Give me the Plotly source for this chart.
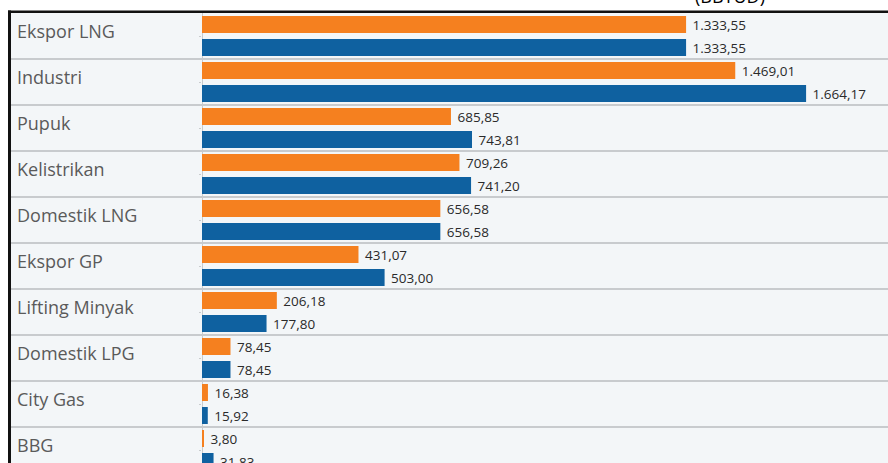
import plotly.graph_objects as go

categories = ["Ekspor LNG", "Industri", "Pupuk", "Kelistrikan", "Domestik LNG",
              "Ekspor GP", "Lifting Minyak", "Domestik LPG", "City Gas", "BBG"]
series_orange = [1333.55, 1469.01, 685.85, 709.26, 656.58, 431.07, 206.18, 78.45, 16.38, 3.80]
series_blue = [1333.55, 1664.17, 743.81, 741.20, 656.58, 503.00, 177.80, 78.45, 15.92, 31.83]
title_text = "(BBTUD)"


def fmt(v):
    s = f"{v:,.2f}"
    return " " + s.replace(",", "X").replace(".", ",").replace("X", ".")


W, H = 888, 463
TOP = 13
ROW = 46.0
PLOT_H = H - TOP
X_LEFT = 202
PX_PER_UNIT = 0.363
x_max = (W - X_LEFT) / PX_PER_UNIT

BG = "#f3f6f8"
ORANGE = "#f5801f"
BLUE = "#0f61a0"
VAL_FONT = dict(family="Open Sans", size=13.5, color="#2a2a2a")

fig = go.Figure()
fig.add_trace(go.Bar(
    y=categories, x=series_orange, orientation="h",
    marker=dict(color=ORANGE, line=dict(width=0)),
    text=[fmt(v) for v in series_orange], textposition="outside",
    textfont=VAL_FONT,
    constraintext="none", cliponaxis=False, hoverinfo="skip",
))
fig.add_trace(go.Bar(
    y=categories, x=series_blue, orientation="h",
    marker=dict(color=BLUE, line=dict(width=0)),
    text=[fmt(v) for v in series_blue], textposition="outside",
    textfont=VAL_FONT,
    constraintext="none", cliponaxis=False, hoverinfo="skip",
))

shapes = []
# panel background (label column + plot)
shapes.append(dict(type="rect", xref="paper", yref="paper", x0=10 / W, x1=1, y0=0, y1=1,
                   fillcolor=BG, line=dict(width=0), layer="below"))
# row separators
for i in range(len(categories) - 1):
    shapes.append(dict(type="line", xref="paper", yref="y", x0=10 / W, x1=1,
                       y0=i + 0.5, y1=i + 0.5, line=dict(color="#c8cbce", width=1.8), layer="below"))
# frame
shapes.append(dict(type="line", xref="paper", yref="paper", x0=8 / W, x1=1,
                   y0=1 + 1.2 / PLOT_H, y1=1 + 1.2 / PLOT_H, line=dict(color="#111111", width=2.5)))
shapes.append(dict(type="line", xref="paper", yref="paper", x0=9.5 / W, x1=9.5 / W,
                   y0=-0.05, y1=1 + 2.5 / PLOT_H, line=dict(color="#111111", width=3)))

annotations = []
for i, c in enumerate(categories):
    annotations.append(dict(x=15 / W, xref="paper", xanchor="left",
                            y=i - 0.5 + 17.5 / ROW, yref="y", yanchor="middle",
                            text=c, showarrow=False,
                            font=dict(family="Open Sans", size=18, color="#5a5a5a")))
annotations.append(dict(x=730 / W, xref="paper", xanchor="center",
                        y=1 + 3 / PLOT_H, yref="paper", yanchor="bottom",
                        text=title_text, showarrow=False,
                        font=dict(family="Open Sans", size=18, color="#000000")))

fig.update_layout(
    width=W, height=H,
    margin=dict(l=0, r=0, t=TOP, b=0),
    paper_bgcolor="white", plot_bgcolor=BG,
    barmode="group", bargap=0, bargroupgap=0.26,
    showlegend=False,
    shapes=shapes, annotations=annotations,
    xaxis=dict(domain=[X_LEFT / W, 1], range=[0, x_max], showticklabels=False,
               showgrid=False, zeroline=True, zerolinecolor="#c8cbcd", zerolinewidth=1,
               ticks="", fixedrange=True),
    yaxis=dict(type="category", categoryorder="array", categoryarray=categories,
               range=[-0.5 + PLOT_H / ROW, -0.5], showticklabels=False, showgrid=False,
               zeroline=False, ticks="outside", ticklen=2, tickcolor="#c8cbcd", fixedrange=True),
)

fig.write_html("out.html", config={"displayModeBar": False},
               post_script="document.body.style.margin='0';document.body.style.overflow='hidden';")
